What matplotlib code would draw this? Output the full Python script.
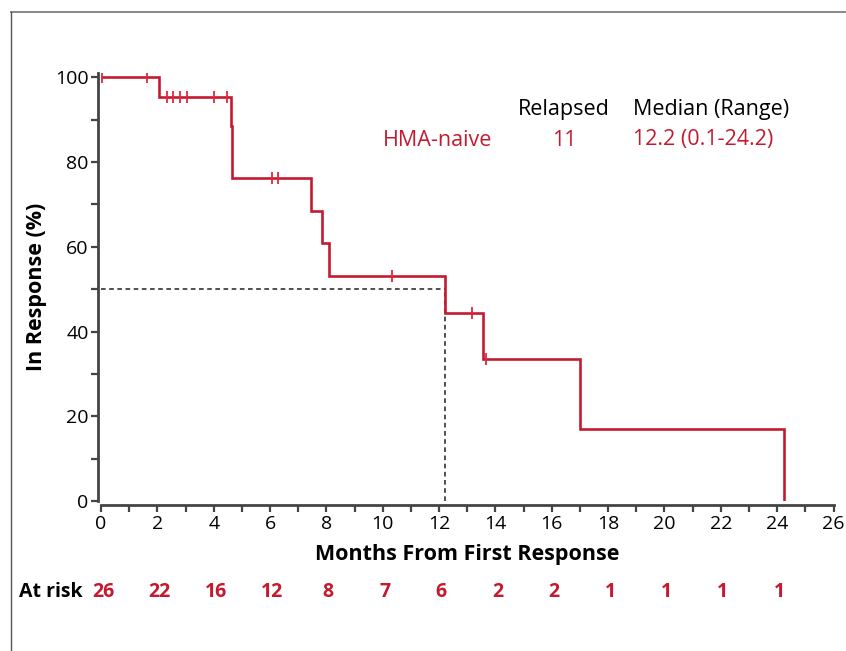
import matplotlib
matplotlib.use("Agg")
import matplotlib.pyplot as plt
from matplotlib.lines import Line2D
import matplotlib.transforms as mtransforms
import numpy as np

plt.rcParams['font.family'] = ['Open Sans', 'DejaVu Sans']

# Kaplan-Meier step curve (months, % in response)
step_times = [0.0, 2.07, 4.61, 4.66, 7.44, 7.85, 8.08, 12.22, 13.57, 17.0, 24.23]
step_levels = [100.0, 95.45, 88.6, 76.3, 68.5, 61.0, 53.2, 44.3, 33.4, 16.9, 0.0]

# Censored observations
censor_times = [0.02, 1.64, 2.33, 2.54, 2.80, 3.05, 4.02, 4.47, 6.06, 6.28,
                10.34, 13.18, 13.67]

# Number at risk
risk_times = [0, 2, 4, 6, 8, 10, 12, 14, 16, 18, 20, 22, 24]
risk_counts = [26, 22, 16, 12, 8, 7, 6, 2, 2, 1, 1, 1, 1]

median_time = 12.22
group_name = "HMA-naive"
relapsed = 11
median_text = "12.2 (0.1-24.2)"

RED = '#c41a30'
CENSOR_RED = '#e0283a'
AXIS_GREY = '#444444'

W, H = 846, 651
fig = plt.figure(figsize=(W / 100, H / 100), dpi=100)
ax = fig.add_axes([101 / W, (H - 501) / H, (833.5 - 101) / W, (501 - 73.1) / H])


def level_at(t):
    idx = np.searchsorted(step_times, t, side='right') - 1
    return step_levels[idx]


# curve
ax.step(step_times, step_levels, where='post', color=RED, lw=1.9,
        solid_joinstyle='miter', zorder=3)

# censor marks
cy = [level_at(t) for t in censor_times]
ax.plot(censor_times, cy, ls='none', marker='|', ms=8, mew=1.3, color=CENSOR_RED, zorder=4)

# median guide
ax.plot([0, median_time], [50, 50], ls=(0, (2.4, 1.8)), color='#505050', lw=1.4, zorder=2)
ax.plot([median_time, median_time], [0, 50], ls=(0, (2.4, 1.8)), color='#505050', lw=1.4, zorder=2)

ax.set_xlim(0, 26)
ax.set_ylim(0, 101)
ax.set_xticks(np.arange(0, 27, 2))
ax.set_xticks(np.arange(1, 26, 2), minor=True)
ax.set_yticks(np.arange(0, 101, 20))
ax.set_yticks(np.arange(10, 100, 20), minor=True)

for s in ['top', 'right']:
    ax.spines[s].set_visible(False)
for s in ['left', 'bottom']:
    ax.spines[s].set_color(AXIS_GREY)
    ax.spines[s].set_linewidth(2.0)
ax.spines['bottom'].set_position(('outward', 3))
ax.spines['left'].set_position(('outward', 2))

ax.tick_params(axis='both', which='major', direction='out', length=5, width=1.6,
               color=AXIS_GREY, labelsize=14, pad=2)
ax.tick_params(axis='both', which='minor', direction='out', length=5, width=1.6,
               color=AXIS_GREY)

ax.set_xlabel("Months From First Response", fontsize=15.5, fontweight='bold', labelpad=8)
ax.set_ylabel("In Response (%)", fontsize=15.5, fontweight='bold', labelpad=6)

# legend-style table
tsize = 15.5
fig.text(564 / W, 1 - 109 / H, "Relapsed", ha='center', va='center', fontsize=tsize, color='black')
fig.text(633 / W, 1 - 109 / H, "Median (Range)", ha='left', va='center', fontsize=tsize, color='black')
fig.text(383 / W, 1 - 140 / H, group_name, ha='left', va='center', fontsize=tsize, color=RED)
fig.text(564 / W, 1 - 140 / H, str(relapsed), ha='center', va='center', fontsize=tsize, color=RED)
fig.text(633 / W, 1 - 140 / H, median_text, ha='left', va='center', fontsize=tsize, color=RED)

# at-risk row
fig.text(19 / W, 1 - 592 / H, "At risk", ha='left', va='center', fontsize=14,
         fontweight='bold', color='black')
trans = mtransforms.blended_transform_factory(ax.transData, fig.transFigure)
for t, n in zip(risk_times, risk_counts):
    ax.text(t + 0.07, 1 - 592 / H, str(n), transform=trans, ha='center', va='center',
            fontsize=14, fontweight='bold', color=RED, clip_on=False)

# frame lines along top and left edges
fig.add_artist(Line2D([10.5 / W, 1], [1 - 12 / H, 1 - 12 / H], transform=fig.transFigure,
                      color='#888888', lw=1.4))
fig.add_artist(Line2D([10.5 / W, 10.5 / W], [0, 1 - 12 / H], transform=fig.transFigure,
                      color='#555555', lw=1.0))

fig.savefig("out.png", dpi=100)
